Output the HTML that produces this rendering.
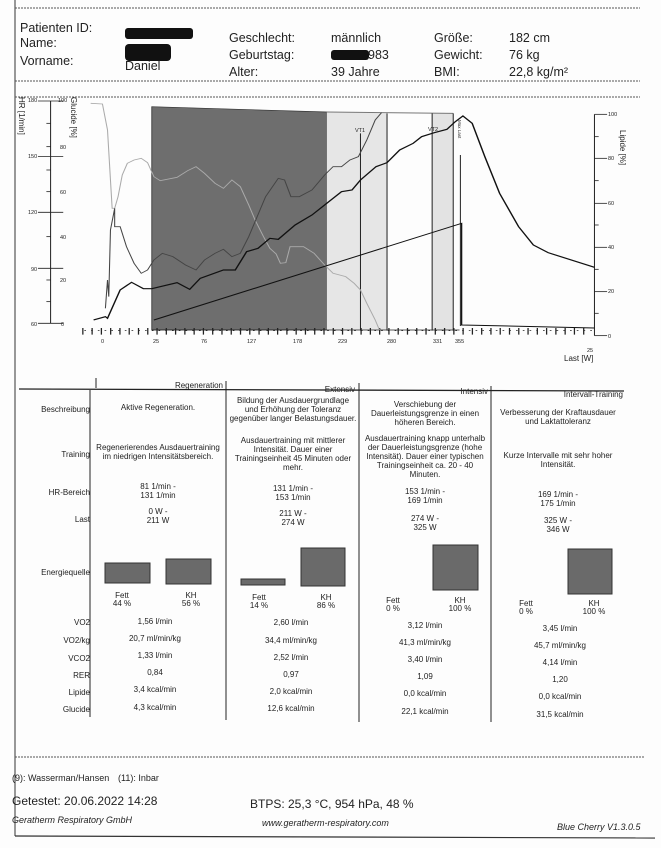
<!DOCTYPE html>
<html><head><meta charset="utf-8"><style>
html,body{margin:0;padding:0;background:#fff;}
svg{display:block;}
text{font-family:"Liberation Sans",sans-serif;fill:#222;}
.h{font-size:12.5px;}
.s{font-size:7.5px;}
.t{font-size:8px;}
</style></head><body>
<svg width="661" height="848" viewBox="0 0 661 848" xmlns="http://www.w3.org/2000/svg">
<rect width="661" height="848" fill="#fdfdfd"/>
<line x1="15" y1="0" x2="15" y2="836" stroke="#333" stroke-width="1"/>
<line x1="15" y1="8" x2="640" y2="8" stroke="#555" stroke-dasharray="2,1"/>
<line x1="15" y1="81" x2="640" y2="81" stroke="#555" stroke-dasharray="2,1"/>
<line x1="15" y1="97" x2="640" y2="97" stroke="#555" stroke-dasharray="2,1"/>
<line x1="15" y1="757" x2="645" y2="757" stroke="#555" stroke-dasharray="2,1"/>
<line x1="15" y1="836" x2="655" y2="838" stroke="#333" stroke-width="1.2"/>
<text class="h" x="20" y="32">Patienten ID:</text>
<text class="h" x="20" y="47">Name:</text>
<text class="h" x="20" y="65">Vorname:</text>
<rect x="125" y="28" width="68" height="11" rx="3" fill="#111"/>
<rect x="125" y="44" width="46" height="17" rx="4" fill="#111"/>
<text class="h" x="125" y="70">Daniel</text>
<text class="h" x="229" y="42">Geschlecht:</text>
<text class="h" x="229" y="59">Geburtstag:</text>
<text class="h" x="229" y="76">Alter:</text>
<text class="h" x="331" y="42">männlich</text>
<rect x="331" y="50" width="38" height="10" rx="3" fill="#111"/>
<text class="h" x="368" y="59">983</text>
<text class="h" x="331" y="76">39 Jahre</text>
<text class="h" x="434" y="42">Größe:</text>
<text class="h" x="434" y="59">Gewicht:</text>
<text class="h" x="434" y="76">BMI:</text>
<text class="h" x="509" y="42">182 cm</text>
<text class="h" x="509" y="59">76 kg</text>
<text class="h" x="509" y="76">22,8 kg/m²</text>

<g transform="translate(0,90) scale(0.4216,0.3333)">
<polygon points="360,50 775,66 775,720 360,720" fill="#6e6e6e" stroke="#333" stroke-width="2"/>
<polygon points="775,66 918,70 918,720 775,720" fill="#e6e6e6"/>
<polygon points="1025,70 1075,70 1075,720 1025,720" fill="#e3e3e3"/>
<line x1="775" y1="66" x2="1075" y2="70" stroke="#777" stroke-width="3"/>
<g stroke="#222" stroke-width="2.4">
<line x1="855" y1="130" x2="855" y2="722"/>
<line x1="918" y1="70" x2="918" y2="722"/>
<line x1="1025" y1="70" x2="1025" y2="722"/>
<line x1="1075" y1="70" x2="1075" y2="722"/>
<line x1="1092" y1="195" x2="1092" y2="708"/>
</g>
<g stroke="#222" stroke-width="2.4" fill="none">
<line x1="120" y1="33" x2="120" y2="700"/>
<line x1="1410" y1="73" x2="1410" y2="737"/>
<line x1="200" y1="722" x2="1410" y2="722" stroke-dasharray="4,12"/>
<line x1="360" y1="720" x2="1090" y2="720"/>
<line x1="195" y1="724" x2="1405" y2="724" stroke-dasharray="3,19" stroke-width="20"/>
</g>
<g stroke="#222" stroke-width="2.4">
<line x1="90" y1="33" x2="150" y2="33"/><line x1="90" y1="200" x2="150" y2="200"/><line x1="90" y1="367" x2="150" y2="367"/><line x1="90" y1="535" x2="150" y2="535"/><line x1="90" y1="700" x2="150" y2="700"/>
<line x1="110" y1="100" x2="120" y2="100"/><line x1="110" y1="170" x2="120" y2="170"/><line x1="110" y1="240" x2="120" y2="240"/><line x1="110" y1="305" x2="120" y2="305"/><line x1="110" y1="440" x2="120" y2="440"/><line x1="110" y1="570" x2="120" y2="570"/><line x1="110" y1="635" x2="120" y2="635"/>
<line x1="1410" y1="73" x2="1440" y2="73"/><line x1="1410" y1="140" x2="1420" y2="140"/><line x1="1410" y1="205" x2="1440" y2="205"/><line x1="1410" y1="272" x2="1420" y2="272"/><line x1="1410" y1="340" x2="1440" y2="340"/><line x1="1410" y1="405" x2="1420" y2="405"/><line x1="1410" y1="472" x2="1440" y2="472"/><line x1="1410" y1="538" x2="1420" y2="538"/><line x1="1410" y1="605" x2="1440" y2="605"/><line x1="1410" y1="670" x2="1420" y2="670"/><line x1="1410" y1="737" x2="1440" y2="737"/>
</g>
<polyline fill="none" stroke="#aaa" stroke-width="2.5" points="215,40 243,42 255,120 262,270 266,355 272,355 280,320 290,255 302,220 318,210 335,205 350,218 365,260 380,272 420,262 445,242 465,230 485,250 510,280 530,295 550,270 570,290 590,345 605,390 625,440 640,475 655,492 665,520 678,518 688,470 720,470 745,490 770,525 790,550 820,560 840,580 855,600 870,640 890,690 900,720"/>
<polyline fill="none" stroke="#444" stroke-width="2.5" points="250,655 255,570 258,620 262,420 272,355 272,410 285,410 300,470 318,520 335,550 350,540 365,510 385,490 410,500 440,525 465,540 485,510 510,490 530,478 550,500 570,490 590,440 610,380 630,320 660,265 675,270 690,320 710,320 740,300 770,255 790,230 810,230 830,210 850,200 870,150 890,90 905,68"/>
<polyline fill="none" stroke="#111" stroke-width="3.5" points="222,690 250,680 255,685 285,600 312,577 340,596 360,596 420,578 450,598 475,565 530,540 558,540 585,485 612,475 640,445 660,448 700,405 740,375 775,340 810,305 835,300 855,270 892,230 918,218 948,180 980,160 1000,140 1030,128 1060,118 1080,95 1098,78 1120,100 1150,200 1185,310 1230,410 1265,465 1300,488 1410,532"/>
<polyline fill="none" stroke="#111" stroke-width="3" points="365,690 1095,400 1095,705 1410,714"/>
</g>
<g>
<text x="28" y="102" font-size="5.5">180</text><text x="28" y="158" font-size="5.5">150</text><text x="28" y="214" font-size="5.5">120</text><text x="31" y="271" font-size="5.5">90</text><text x="31" y="326" font-size="5.5">60</text>
<text x="58" y="102" font-size="5.5">100</text><text x="60" y="149" font-size="5.5">80</text><text x="60" y="194" font-size="5.5">60</text><text x="60" y="239" font-size="5.5">40</text><text x="60" y="282" font-size="5.5">20</text><text x="61" y="326" font-size="5.5">0</text>
<text x="608" y="116" font-size="5.5">100</text><text x="608" y="160" font-size="5.5">80</text><text x="608" y="205" font-size="5.5">60</text><text x="608" y="249" font-size="5.5">40</text><text x="608" y="293" font-size="5.5">20</text><text x="608" y="338" font-size="5.5">0</text>
<text x="101" y="343" font-size="5.5">0</text><text x="153" y="343" font-size="5.5">25</text><text x="201" y="343" font-size="5.5">76</text><text x="247" y="343" font-size="5.5">127</text><text x="293" y="343" font-size="5.5">178</text><text x="338" y="343" font-size="5.5">229</text><text x="387" y="343" font-size="5.5">280</text><text x="433" y="343" font-size="5.5">331</text><text x="455" y="343" font-size="5.5">355</text><text x="587" y="352" font-size="5.5">25</text>
<text x="355" y="132" font-size="5.5">VT1</text><text x="428" y="131" font-size="5.5">VT2</text>
</g>
<text x="564" y="361" font-size="8">Last [W]</text>
<text transform="translate(19,97) rotate(90)" font-size="8">HR [1/min]</text>
<text transform="translate(71,97) rotate(90)" font-size="8">Glucide [%]</text>
<text transform="translate(620,130) rotate(90)" font-size="8">Lipide [%]</text>
<text transform="translate(458,120) rotate(90)" font-size="4.5">Max Last</text>

<line x1="19" y1="389" x2="624" y2="391" stroke="#222" stroke-width="1.3"/>
<g stroke="#222" stroke-width="1">
<line x1="90" y1="390" x2="90" y2="717"/>
<line x1="226" y1="381" x2="226" y2="720"/>
<line x1="359" y1="383" x2="359" y2="722"/>
<line x1="491" y1="386" x2="491" y2="722"/>
<line x1="96" y1="378" x2="96" y2="388"/>
</g>
<g class="t" text-anchor="end">
<text x="223" y="388">Regeneration</text>
<text x="355" y="392">Extensiv</text>
<text x="488" y="394">Intensiv</text>
<text x="623" y="397">Intervall-Training</text>
<text x="90" y="412">Beschreibung</text>
<text x="90" y="457">Training</text>
<text x="90" y="495">HR-Bereich</text>
<text x="90" y="522">Last</text>
<text x="90" y="575">Energiequelle</text>
<text x="90" y="625">VO2</text>
<text x="90" y="643">VO2/kg</text>
<text x="90" y="661">VCO2</text>
<text x="90" y="678">RER</text>
<text x="90" y="695">Lipide</text>
<text x="90" y="712">Glucide</text>
</g>
<g class="t" text-anchor="middle" font-size="7.5">
<text x="158" y="410">Aktive Regeneration.</text>
<text x="158" y="450">Regenerierendes Ausdauertraining</text>
<text x="158" y="459">im niedrigen Intensitätsbereich.</text>
<text x="158" y="489">81 1/min -</text><text x="158" y="498">131 1/min</text>
<text x="158" y="514">0 W -</text><text x="158" y="523">211 W</text>
<text x="122" y="598">Fett</text><text x="122" y="606">44 %</text>
<text x="191" y="598">KH</text><text x="191" y="606">56 %</text>
<text x="155" y="624">1,56 l/min</text>
<text x="155" y="641">20,7 ml/min/kg</text>
<text x="155" y="658">1,33 l/min</text>
<text x="155" y="675">0,84</text>
<text x="155" y="692">3,4 kcal/min</text>
<text x="155" y="710">4,3 kcal/min</text>

<text x="293" y="403">Bildung der Ausdauergrundlage</text>
<text x="293" y="412">und Erhöhung der Toleranz</text>
<text x="293" y="421">gegenüber langer Belastungsdauer.</text>
<text x="293" y="443">Ausdauertraining mit mittlerer</text>
<text x="293" y="452">Intensität. Dauer einer</text>
<text x="293" y="461">Trainingseinheit 45 Minuten oder</text>
<text x="293" y="470">mehr.</text>
<text x="293" y="491">131 1/min -</text><text x="293" y="500">153 1/min</text>
<text x="293" y="516">211 W -</text><text x="293" y="525">274 W</text>
<text x="259" y="600">Fett</text><text x="259" y="608">14 %</text>
<text x="326" y="600">KH</text><text x="326" y="608">86 %</text>
<text x="291" y="625">2,60 l/min</text>
<text x="291" y="643">34,4 ml/min/kg</text>
<text x="291" y="660">2,52 l/min</text>
<text x="291" y="677">0,97</text>
<text x="291" y="694">2,0 kcal/min</text>
<text x="291" y="711">12,6 kcal/min</text>

<text x="425" y="407">Verschiebung der</text>
<text x="425" y="416">Dauerleistungsgrenze in einen</text>
<text x="425" y="425">höheren Bereich.</text>
<text x="425" y="441">Ausdauertraining knapp unterhalb</text>
<text x="425" y="450">der Dauerleistungsgrenze (hohe</text>
<text x="425" y="459">Intensität). Dauer einer typischen</text>
<text x="425" y="468">Trainingseinheit ca. 20 - 40</text>
<text x="425" y="477">Minuten.</text>
<text x="425" y="494">153 1/min -</text><text x="425" y="503">169 1/min</text>
<text x="425" y="521">274 W -</text><text x="425" y="530">325 W</text>
<text x="393" y="603">Fett</text><text x="393" y="611">0 %</text>
<text x="460" y="603">KH</text><text x="460" y="611">100 %</text>
<text x="425" y="628">3,12 l/min</text>
<text x="425" y="645">41,3 ml/min/kg</text>
<text x="425" y="662">3,40 l/min</text>
<text x="425" y="679">1,09</text>
<text x="425" y="696">0,0 kcal/min</text>
<text x="425" y="714">22,1 kcal/min</text>

<text x="558" y="415">Verbesserung der Kraftausdauer</text>
<text x="558" y="424">und Laktattoleranz</text>
<text x="558" y="458">Kurze Intervalle mit sehr hoher</text>
<text x="558" y="467">Intensität.</text>
<text x="558" y="497">169 1/min -</text><text x="558" y="506">175 1/min</text>
<text x="558" y="523">325 W -</text><text x="558" y="532">346 W</text>
<text x="526" y="606">Fett</text><text x="526" y="614">0 %</text>
<text x="594" y="606">KH</text><text x="594" y="614">100 %</text>
<text x="560" y="631">3,45 l/min</text>
<text x="560" y="648">45,7 ml/min/kg</text>
<text x="560" y="665">4,14 l/min</text>
<text x="560" y="682">1,20</text>
<text x="560" y="699">0,0 kcal/min</text>
<text x="560" y="717">31,5 kcal/min</text>
</g>
<g fill="#6a6a6a" stroke="#333" stroke-width="1">
<rect x="105" y="563" width="45" height="20"/>
<rect x="166" y="559" width="45" height="25"/>
<rect x="241" y="579" width="44" height="6"/>
<rect x="301" y="548" width="44" height="38"/>
<rect x="433" y="545" width="45" height="45"/>
<rect x="568" y="549" width="44" height="45"/>
</g>

<text x="12" y="781" font-size="9">(9): Wasserman/Hansen</text>
<text x="118" y="781" font-size="9">(11): Inbar</text>
<text x="12" y="805" font-size="12">Getestet: 20.06.2022 14:28</text>
<text x="250" y="808" font-size="12">BTPS: 25,3 °C, 954 hPa, 48 %</text>
<text x="12" y="823" font-size="9" font-style="italic">Geratherm Respiratory GmbH</text>
<text x="262" y="826" font-size="9" font-style="italic">www.geratherm-respiratory.com</text>
<text x="557" y="830" font-size="9" font-style="italic">Blue Cherry V1.3.0.5</text>
</svg>
</body></html>
